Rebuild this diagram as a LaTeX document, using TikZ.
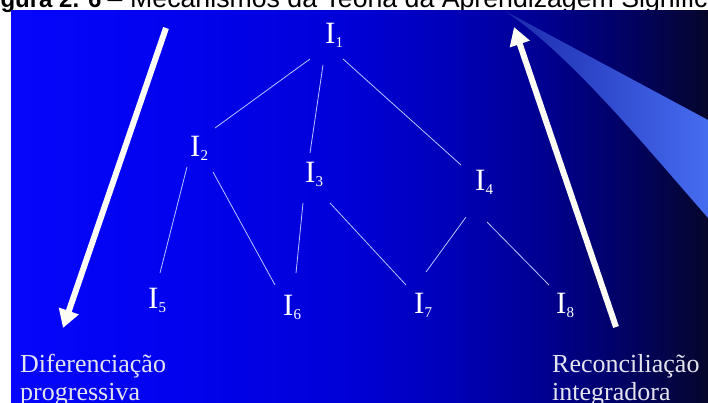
\documentclass[tikz,border=0pt]{standalone}
\usepackage{fontspec}
\setmainfont{Liberation Serif}
\newfontfamily\titlefont{Liberation Sans}
\usetikzlibrary{arrows.meta}
\definecolor{bgA}{RGB}{6,6,252}
\definecolor{bgB}{RGB}{2,2,238}
\definecolor{bgC}{RGB}{0,0,214}
\definecolor{bgD}{RGB}{0,0,184}
\definecolor{bgE}{RGB}{0,0,142}
\definecolor{bgF}{RGB}{2,2,92}
\definecolor{bgG}{RGB}{6,6,44}
\definecolor{wedgeA}{RGB}{28,42,172}
\definecolor{wedgeB}{RGB}{70,108,240}
\definecolor{linkc}{RGB}{185,195,255}
\definecolor{labelc}{RGB}{228,228,238}
\definecolor{arrowc}{RGB}{252,252,244}
\pgfdeclarehorizontalshading{bgshade}{100bp}{color(0bp)=(bgA); color(25bp)=(bgA); color(37bp)=(bgB); color(49.5bp)=(bgC); color(56.5bp)=(bgD); color(63.5bp)=(bgE); color(70bp)=(bgF); color(75bp)=(bgG); color(100bp)=(bgG)}
\newcommand\sbx[1]{\raisebox{-4pt}{\fontsize{15}{15}\selectfont #1}}
\begin{document}
\begin{tikzpicture}[x=1pt,y=-1pt,
  ilabel/.style={anchor=base west, inner sep=0pt, text=white, font=\fontsize{31}{31}\selectfont},
  link/.style={draw=linkc, line width=0.8pt},
  bigarrow/.style={draw=arrowc, line width=6pt, -{Triangle[width=20pt,length=18pt]}},
  sidetext/.style={anchor=base west, inner sep=0pt, text=labelc, font=\fontsize{26}{28}\selectfont},
  titletext/.style={inner sep=0pt, text=black}]
\useasboundingbox (0,0) rectangle (708,403);
\clip (0,0) rectangle (708,403);
\fill[white] (0,0) rectangle (708,403);
% title (cut off at the top)
\node[titletext, anchor=base west, font=\titlefont\bfseries\fontsize{24}{24}\selectfont] (title1) at (-21,8) {Figura 2. 6};
\node[titletext, anchor=base, font=\titlefont\fontsize{26.7}{26.7}\selectfont] (title2) at (115,8) {–};
\node[titletext, anchor=base west, font=\titlefont\fontsize{26.7}{26.7}\selectfont] (title3) at (130,8) {Mecanismos da Teoria da Aprendizagem Significativa};
% background
\shade[shading=bgshade] (11,11) rectangle (708,403);
% light wedge
\shade[left color=wedgeA, right color=wedgeB] (505,11) -- (708,120) -- (708,218) .. controls (640,140) and (570,55) .. (505,11) -- cycle;
% labels
\node[ilabel] (i1) at (325,44) {I\sbx{1}};
\node[ilabel] (i2) at (190,157) {I\sbx{2}};
\node[ilabel] (i3) at (305,183) {I\sbx{3}};
\node[ilabel] (i4) at (475,190) {I\sbx{4}};
\node[ilabel] (i5) at (148,308) {I\sbx{5}};
\node[ilabel] (i6) at (283,315) {I\sbx{6}};
\node[ilabel] (i7) at (414,313) {I\sbx{7}};
\node[ilabel] (i8) at (556,313) {I\sbx{8}};
% links
\draw[link] ([shift={(-15,15)}]i1.base west) -- ([shift={(25,-29)}]i2.base west);
\draw[link] ([shift={(-2,21)}]i1.base west) -- ([shift={(5,-30)}]i3.base west);
\draw[link] ([shift={(18,15)}]i1.base west) -- ([shift={(-14,-25)}]i4.base west);
\draw[link] ([shift={(-3,10)}]i2.base west) -- ([shift={(12,-35)}]i5.base west);
\draw[link] ([shift={(23,15)}]i2.base west) -- ([shift={(-8,-30)}]i6.base west);
\draw[link] ([shift={(-2,20)}]i3.base west) -- ([shift={(13,-42)}]i6.base west);
\draw[link] ([shift={(25,20)}]i3.base west) -- ([shift={(-8,-28)}]i7.base west);
\draw[link] ([shift={(-9,27)}]i4.base west) -- ([shift={(12,-41)}]i7.base west);
\draw[link] ([shift={(12,32)}]i4.base west) -- ([shift={(-7,-28)}]i8.base west);
% big arrows
\coordinate (la1) at (166,28);
\coordinate (la2) at (63,328);
\coordinate (ra1) at (616,327);
\coordinate (ra2) at (514,27);
\draw[bigarrow] (la1) -- (la2);
\draw[bigarrow] (ra1) -- (ra2);
% side texts
\node[sidetext] (dif1) at (20,372) {Diferenciação};
\node[sidetext] (dif2) at (20,400) {progressiva};
\node[sidetext] (rec1) at (552,372) {Reconciliação};
\node[sidetext] (rec2) at (552,400) {integradora};
\end{tikzpicture}
\end{document}
